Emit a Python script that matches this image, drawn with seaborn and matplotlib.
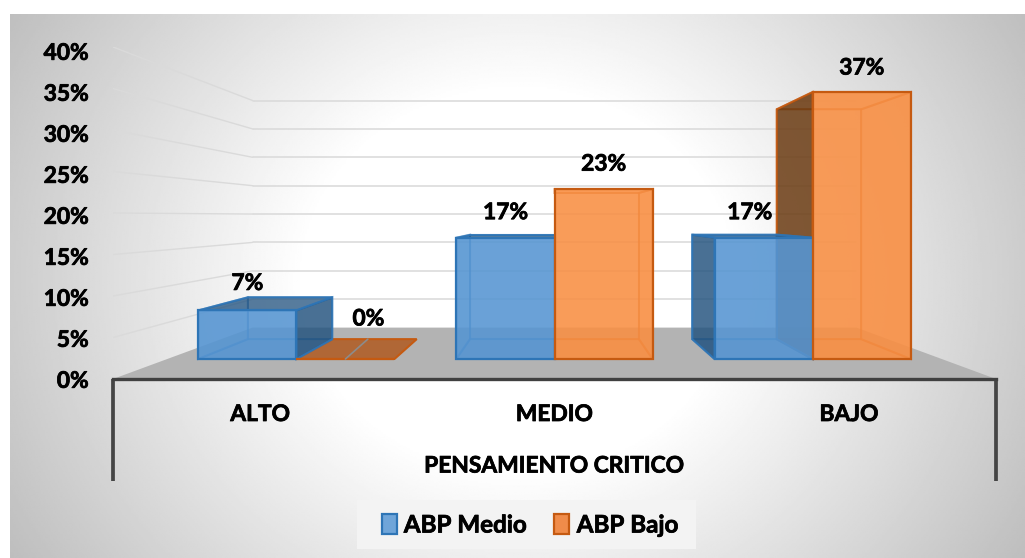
import matplotlib
matplotlib.use('Agg')
import matplotlib.pyplot as plt
import matplotlib.patheffects as pe
from matplotlib.colors import to_rgba
from matplotlib.patches import Polygon, Patch, Rectangle
from matplotlib.transforms import ScaledTranslation
import numpy as np
import pandas as pd
import seaborn as sns

niveles = ['ALTO', 'MEDIO', 'BAJO']
abp_medio = [6.67, 16.67, 16.67]
abp_bajo = [0.0, 23.33, 36.67]
grupos = ['ABP Medio', 'ABP Bajo']
y_ticks = [0, 5, 10, 15, 20, 25, 30, 35, 40]

# colours: front, side, edge
BLUE = ('#5695D2', '#1F4E79', '#2E75B6')
ORANGE = ('#F98F43', '#5E3008', '#C55A11')

# perspective: depth s = 1 at the axis line, smaller going back
S_FRONT = 0.877
S_BACK = 0.755
S_WALL = 0.684
VP_X, VP_Y = 1.0, 19.6

HEAVY = [pe.withStroke(linewidth=0.55, foreground='black')]


def project(x, v, s):
    return (VP_X + s * (x - VP_X), VP_Y * (1 - s) + s * v)


def face(ax, pts, color, alpha, edge, ealpha=1.0, z=2, lw=1.5):
    ax.add_patch(Polygon(pts, closed=True, facecolor=to_rgba(color, alpha),
                         edgecolor=to_rgba(edge, ealpha), linewidth=lw, zorder=z))


def box(ax, x0, x1, val, cols, z):
    front, side, edge = cols
    # floor and back
    face(ax, [project(x0, 0, S_FRONT), project(x1, 0, S_FRONT), project(x1, 0, S_BACK), project(x0, 0, S_BACK)],
         '#B05A20' if val == 0 else front, 0.85 if val == 0 else 0.35, edge, 1 if val == 0 else 0.5, z)
    if val == 0:
        return
    face(ax, [project(x0, 0, S_BACK), project(x1, 0, S_BACK), project(x1, val, S_BACK), project(x0, val, S_BACK)],
         front, 0.2, edge, 0.5, z, 1.2)
    # faces turned to the viewer are dark, the inner ones stay light
    for xs, outer in ((x0, x0 > VP_X), (x1, x1 < VP_X)):
        if abs(xs - VP_X) < 1e-6:
            continue
        face(ax, [project(xs, 0, S_FRONT), project(xs, val, S_FRONT), project(xs, val, S_BACK), project(xs, 0, S_BACK)],
             side if outer else front, 0.78 if outer else 0.3, edge, 0.9 if outer else 0.5, z + (0.05 if outer else 0))
    under = val > VP_Y
    face(ax, [project(x0, val, S_FRONT), project(x1, val, S_FRONT), project(x1, val, S_BACK), project(x0, val, S_BACK)],
         front if under else side, 0.3 if under else 0.7, edge, 0.5 if under else 0.9, z)


sns.set_theme(style='white')
plt.rcParams['font.family'] = ['Lato', 'DejaVu Sans']
plt.rcParams['font.weight'] = 'bold'

W, H = 1025, 558
fig = plt.figure(figsize=(W / 100, H / 100), dpi=100, facecolor='white')

# grey to white background
bg = fig.add_axes([10 / W, 0, 1015 / W, 544 / H], zorder=0)
yy, xx = np.mgrid[-1:1:300j, -1:1:600j]
dist = np.sqrt(xx ** 2 + ((yy + 0.02) * 0.6) ** 2)
shade = np.clip(1 - np.clip(dist - 0.42, 0, None) * 0.34, 0, 1)
bg.imshow(shade, cmap='gray', vmin=0, vmax=1, aspect='auto')
bg.axis('off')

ax = fig.add_axes([113 / W, (H - 379) / H, 883 / W, 332 / H], zorder=1)
ax.patch.set_alpha(0)

df = pd.DataFrame({
    'nivel': niveles * 2,
    'valor': abp_medio + abp_bajo,
    'grupo': [grupos[0]] * 3 + [grupos[1]] * 3,
})
sns.barplot(data=df, x='nivel', y='valor', hue='grupo', order=niveles, hue_order=grupos,
            palette=[BLUE[0], ORANGE[0]], width=0.76, gap=0, saturation=1, legend=False, ax=ax)

ax.set_xlim(-0.5, 2.5)
ax.set_ylim(0, 40)

# floor
face(ax, [project(-0.5, 0, 1), project(2.5, 0, 1), project(2.5, 0, S_WALL), project(-0.5, 0, S_WALL)],
     '#B3B3B3', 1, '#B3B3B3', 1, 0.5, 0)

# gridlines on the back and left walls
for t in y_ticks[1:]:
    bx, by = project(-0.5, t, S_WALL)
    ex, ey = project(2.5, t, S_WALL)
    fx, fy = project(-0.5, t, 1)
    ax.plot([bx, ex], [by, ey], color='#D9D9D9', lw=1.1, zorder=0.6)
    ax.plot([fx, bx], [fy, by], color='#DADADA', lw=1.0, zorder=0.6)

cols = [BLUE, ORANGE]
nudge_x = [[0, 0, -14], [23, 0, 0]]
nudge_y = [[27, 25, 25], [40, 25, 24]]
for h, cont in enumerate(ax.containers):
    for i, bar in enumerate(cont.patches):
        x0, x1, val = bar.get_x(), bar.get_x() + bar.get_width(), bar.get_height()
        box(ax, x0, x1, val, cols[h], 2 - 0.2 * h)
        # the seaborn bar becomes the front face
        px0, py0 = project(x0, 0, S_FRONT)
        px1, py1 = project(x1, val, S_FRONT)
        bar.set_x(px0)
        bar.set_y(py0)
        bar.set_width(px1 - px0)
        bar.set_height(py1 - py0)
        bar.set_facecolor(to_rgba(cols[h][0], 0.85))
        bar.set_edgecolor(cols[h][2])
        bar.set_linewidth(1.6)
        bar.set_zorder(3)
        ax.annotate(f'{val:.0f}%', ((px0 + px1) / 2, py1), xytext=(nudge_x[h][i], nudge_y[h][i]),
                    textcoords='offset pixels', ha='center', va='center', fontsize=16.4,
                    fontweight='bold', color='black', zorder=5, annotation_clip=False,
                    path_effects=HEAVY)

# grey mark in the flat bar
mx0, my0 = project(0.19, 0, S_FRONT)
mx1, my1 = project(0.16, 0, S_BACK)
ax.plot([mx0, mx1], [my0, my1], color='#8C8C8C', lw=1.2, zorder=4)

# axis
sns.despine(ax=ax, left=True, top=True, right=True)
ax.spines['bottom'].set_color('#404040')
ax.spines['bottom'].set_linewidth(2.4)
ax.spines['bottom'].set_zorder(6)
ax.set_yticks(y_ticks)
ax.set_yticklabels([f'{t}%' for t in y_ticks], fontsize=16.4, fontweight='bold', color='black',
                   path_effects=HEAVY)
ax.set_xticks(range(len(niveles)))
ax.set_xticklabels(niveles, fontsize=16.4, fontweight='bold', color='black', path_effects=HEAVY)
ax.tick_params(axis='x', length=0, pad=18)
ax.tick_params(axis='y', length=0, pad=17.5)
ax.set_ylabel('')
ax.set_xlabel('PENSAMIENTO CRITICO', fontsize=16.4, fontweight='bold', color='black', labelpad=22,
              path_effects=HEAVY)
# the labels of the value axis sit a little lower than the wall lines
for t, lab in zip(y_ticks, ax.get_yticklabels()):
    lab.set_transform(lab.get_transform() + ScaledTranslation(0, -(0.3 + 4 * t / 40) / 100, fig.dpi_scale_trans))
trans = ax.get_xaxis_transform()
for xs in (-0.5, 2.5):
    ax.plot([xs, xs], [0, -102 / 332], color='#454545', lw=2.7, transform=trans, clip_on=False,
            zorder=6, solid_capstyle='butt')

# legend box
fig.add_artist(Rectangle((357 / W, (H - 549) / H), 339 / W, 49 / H, transform=fig.transFigure,
                         facecolor='#F3F3F3', edgecolor='none', zorder=2))
handles = [Patch(facecolor='#6FA5D9', edgecolor=BLUE[2], linewidth=1.6, label=grupos[0]),
           Patch(facecolor='#F08C4A', edgecolor=ORANGE[2], linewidth=1.6, label=grupos[1])]
leg = fig.legend(handles=handles, ncol=2, loc='center', bbox_to_anchor=(530 / W, (H - 525) / H),
                 frameon=False, fontsize=17.4, handlelength=0.62, handleheight=0.9, handletextpad=0.3,
                 columnspacing=1.15, borderpad=0, labelcolor='black')
leg.set_zorder(3)
for txt in leg.get_texts():
    txt.set_path_effects(HEAVY)

fig.savefig('out.png', dpi=100)
plt.close(fig)
